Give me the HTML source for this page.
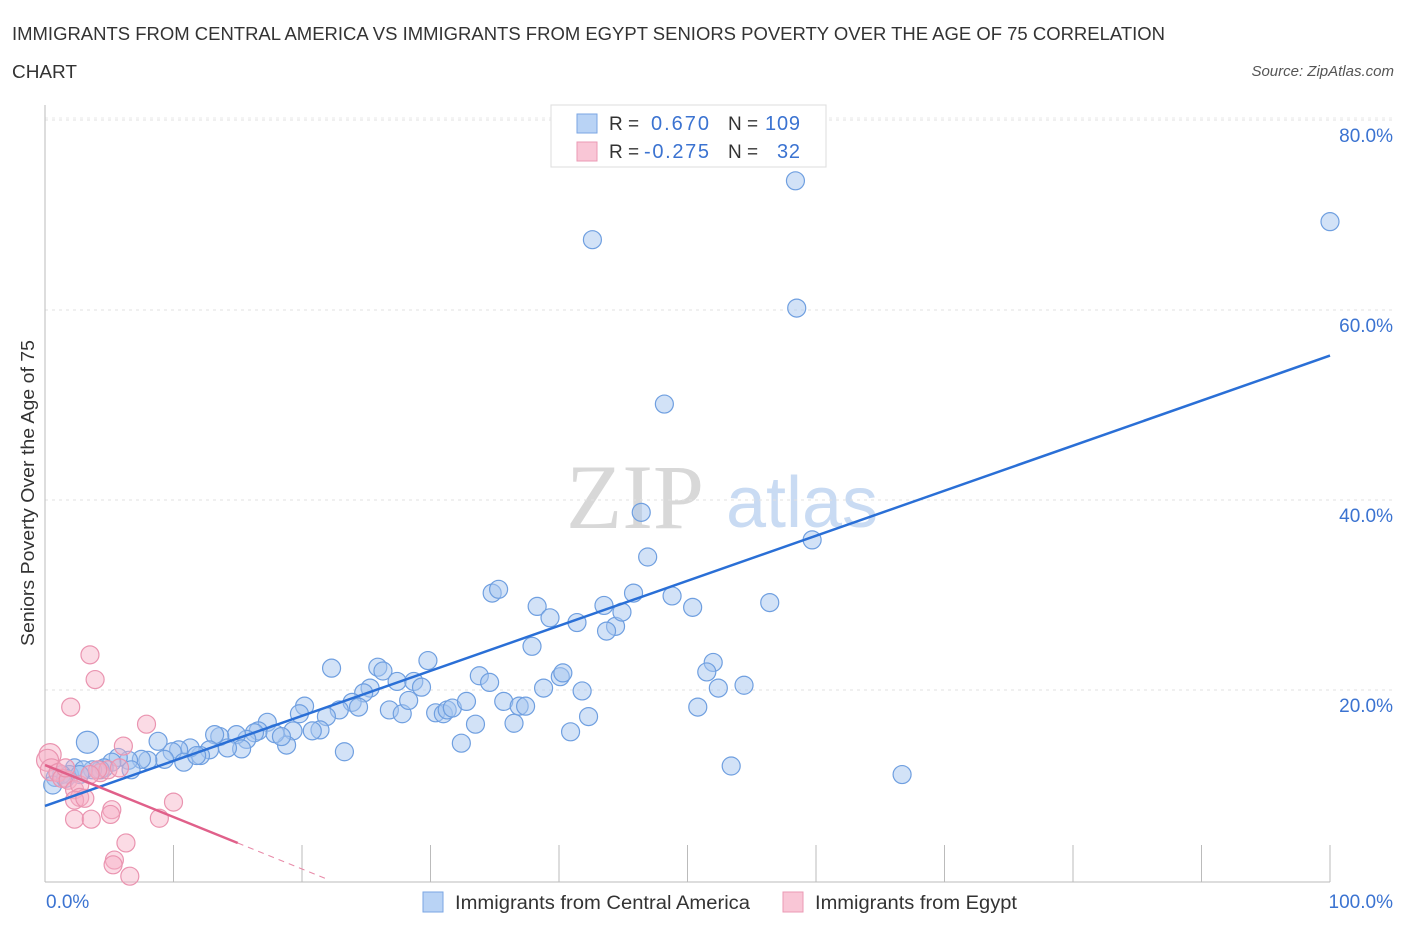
<!DOCTYPE html>
<html><head><meta charset="utf-8"><style>
body{margin:0;background:#fff;font-family:"Liberation Sans",sans-serif;}
</style></head><body>
<svg id="c" width="1406" height="930" xmlns="http://www.w3.org/2000/svg" font-family="Liberation Sans, sans-serif">
<text x="12" y="40" font-size="18" fill="#333" textLength="1153" lengthAdjust="spacingAndGlyphs">IMMIGRANTS FROM CENTRAL AMERICA VS IMMIGRANTS FROM EGYPT SENIORS POVERTY OVER THE AGE OF 75 CORRELATION</text>
<text x="12" y="78" font-size="18" fill="#333" textLength="65" lengthAdjust="spacingAndGlyphs">CHART</text>
<text x="1394" y="76" font-size="15" font-style="italic" fill="#555" text-anchor="end">Source: ZipAtlas.com</text>
<text x="635" y="528" font-size="92" style="font-family:'Liberation Serif',serif" fill="#d8d8d8" text-anchor="middle">ZIP</text>
<text x="802" y="527" font-size="72" fill="#c9dbf3" text-anchor="middle">atlas</text>
<g id="grid"></g>
<g id="axes"></g>
<g id="pts"></g>
<g id="lines"></g>
<text transform="translate(34,493) rotate(-90)" font-size="18" fill="#333" text-anchor="middle" textLength="306" lengthAdjust="spacingAndGlyphs">Seniors Poverty Over the Age of 75</text>
<text x="46" y="908" font-size="19" fill="#3b73d1">0.0%</text>
<text x="1393" y="908" font-size="19" fill="#3b73d1" text-anchor="end">100.0%</text>
<g>
<rect x="551" y="105" width="275" height="62" fill="#fff" stroke="#ddd"/>
<rect x="577" y="114" width="20" height="19" fill="#b9d3f5" stroke="#7aa6e3"/>
<rect x="577" y="142" width="20" height="19" fill="#f9c6d6" stroke="#eb9ab4"/>
<text x="609" y="130" font-size="19" fill="#333">R =</text>
<text x="651" y="130" font-size="20" fill="#3b73d1" textLength="58">0.670</text>
<text x="728" y="130" font-size="19" fill="#333">N =</text>
<text x="765" y="130" font-size="20" fill="#3b73d1" textLength="35">109</text>
<text x="609" y="158" font-size="19" fill="#333">R =</text>
<text x="644" y="158" font-size="20" fill="#3b73d1" textLength="65">-0.275</text>
<text x="728" y="158" font-size="19" fill="#333">N =</text>
<text x="777" y="158" font-size="20" fill="#3b73d1" textLength="23">32</text>
</g>
<g>
<rect x="423" y="892" width="20" height="20" fill="#b9d3f5" stroke="#7aa6e3"/>
<text x="455" y="909" font-size="19" fill="#333" textLength="295" lengthAdjust="spacingAndGlyphs">Immigrants from Central America</text>
</g>
<g>
<rect x="783" y="892" width="20" height="20" fill="#f9c6d6" stroke="#eb9ab4"/>
<text x="815" y="909" font-size="19" fill="#333" textLength="202" lengthAdjust="spacingAndGlyphs">Immigrants from Egypt</text>
</g>
</svg>
<script>
const yTicks=[20,40,60,80];
const xTicks=[0,10,20,30,40,50,60,70,80,90,100];
const blueX=[58.4,100,42.6,58.5,48.2,46.4,59.7,46.9,34.8,35.3,38.3,39.3,43.5,41.4,44.4,43.7,44.9,45.8,48.8,50.4,56.4,37.9,22.3,25.9,26.3,29.8,33.8,34.6,40.1,40.3,41.8,38.8,52.0,51.5,52.4,54.4,50.8,53.4,66.7,27.4,28.7,29.3,25.3,24.8,23.9,24.4,22.9,26.8,27.8,28.3,30.4,31.0,31.3,31.7,32.8,35.7,36.9,37.4,36.5,33.5,32.4,40.9,42.3,20.2,19.8,21.9,21.4,20.8,23.3,19.3,18.8,17.3,16.6,16.3,17.9,18.4,15.7,14.9,13.6,13.2,15.3,14.2,12.8,12.1,11.3,10.4,9.9,9.3,8.8,10.8,11.8,8.0,7.5,6.5,5.7,6.7,5.2,4.6,4.3,3.3,3.7,2.3,1.9,1.3,0.8,0.6,1.6,3.0,2.7];
const blueY=[73.6,69.3,67.4,60.2,50.1,38.7,35.8,34.0,30.2,30.6,28.8,27.6,28.9,27.1,26.7,26.2,28.2,30.2,29.9,28.7,29.2,24.6,22.3,22.4,22.0,23.1,21.5,20.8,21.4,21.8,19.9,20.2,22.9,21.9,20.2,20.5,18.2,12.0,11.1,20.9,20.9,20.3,20.2,19.7,18.7,18.2,17.9,17.9,17.5,18.9,17.6,17.5,17.9,18.1,18.8,18.8,18.3,18.3,16.5,16.4,14.4,15.6,17.2,18.3,17.5,17.2,15.8,15.7,13.5,15.7,14.2,16.6,15.7,15.5,15.4,15.1,14.8,15.3,15.1,15.3,13.8,13.9,13.7,13.1,13.9,13.7,13.5,12.7,14.6,12.4,13.1,12.6,12.7,12.6,12.9,11.6,12.4,11.8,11.6,14.5,11.6,11.8,11.1,11.1,10.8,10.0,10.7,11.6,11.1];
const pinkX=[3.5,3.9,2.0,7.9,6.1,0.4,0.2,0.5,1.0,1.3,1.8,2.3,2.7,4.3,4.9,5.8,5.2,5.1,2.7,2.3,3.1,10.0,8.9,2.3,3.6,6.3,5.4,5.3,6.6,4.1,3.5,1.6];
const pinkY=[23.7,21.1,18.2,16.4,14.1,13.2,12.6,11.6,11.3,10.7,10.5,9.5,10.0,11.3,11.6,11.8,7.4,6.9,8.7,8.4,8.6,8.2,6.5,6.4,6.4,3.9,2.1,1.6,0.4,11.6,11.1,11.8];
const blueTrend=[7.8,55.2];
const pinkTrend=[12.1,-0.547];
const pinkSolidEnd=15;
const NS='http://www.w3.org/2000/svg';
const X=v=>45+v*12.85, Y=v=>880-v*9.5;
function mk(t,a,p){const e=document.createElementNS(NS,t);for(const k in a)e.setAttribute(k,a[k]);p.appendChild(e);return e;}
const grid=document.getElementById('grid'),axes=document.getElementById('axes'),pts=document.getElementById('pts'),lines=document.getElementById('lines');
yTicks.forEach(t=>{
 const l=mk('line',{x1:45,x2:1395,y1:Y(t),y2:Y(t),stroke:'#e2e2e2','stroke-dasharray':'3,4'},grid);
 
 
 const tx=mk('text',{x:1393,y:Y(t)+22,'font-size':19,fill:'#3b73d1','text-anchor':'end'},grid);
 tx.textContent=t.toFixed(1)+'%';
 
 
});
const tl=mk('line',{x1:45,x2:1395,y1:Y(80)-2,y2:Y(80)-2,stroke:'#e8e8e8','stroke-dasharray':'3,4'},grid);


const ya=mk('line',{x1:45,x2:45,y1:105,y2:882,stroke:'#bbb'},axes);


const xa=mk('line',{x1:45,x2:1330,y1:882,y2:882,stroke:'#bbb'},axes);


xTicks.forEach(t=>{
 const l=mk('line',{x1:X(t),x2:X(t),y1:845,y2:882,stroke:'#bbb'},axes);
 
 
});
blueX.forEach((v,i)=>{
 const big=(v===3.3&&blueY[i]===14.5);
 const c=mk('circle',{cx:X(v),cy:Y(blueY[i]),r:big?11:9,fill:'rgba(165,198,240,0.5)',stroke:'#6f9fe0','stroke-width':1.2},pts);
 
 
});
pinkX.forEach((v,i)=>{
 const c=mk('circle',{cx:X(v),cy:Y(pinkY[i]),r:i<8&&v<1?11:9,fill:'rgba(246,175,198,0.45)',stroke:'#ea94b0','stroke-width':1.2},pts);
 
 
});
const bl=mk('line',{x1:X(0),y1:Y(blueTrend[0]),x2:X(100),y2:Y(blueTrend[1]),stroke:'#2a6fd6','stroke-width':2.5},lines);


const pe=-pinkTrend[0]/pinkTrend[1];
const pl=mk('line',{x1:X(0),y1:Y(pinkTrend[0]),x2:X(pinkSolidEnd),y2:Y(pinkTrend[0]+pinkTrend[1]*pinkSolidEnd),stroke:'#e0608a','stroke-width':2.5},lines);


const pd=mk('line',{x1:X(pinkSolidEnd),y1:Y(pinkTrend[0]+pinkTrend[1]*pinkSolidEnd),x2:X(pe),y2:Y(0),stroke:'#e88aa8','stroke-width':1,'stroke-dasharray':'6,5'},lines);


</script>
</body></html>
